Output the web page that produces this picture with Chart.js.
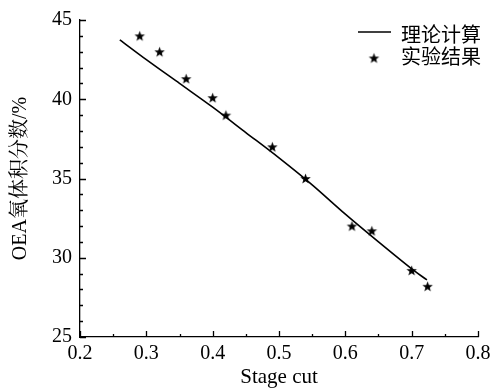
<!DOCTYPE html>
<html>
<head>
<meta charset="utf-8">
<script src="https://cdn.jsdelivr.net/npm/chart.js@4/dist/chart.umd.min.js"></script>
<style>
  html, body { margin: 0; padding: 0; background: #fff; }
  canvas { display: block; }
</style>
</head>
<body>
<canvas id="chart" width="499" height="391"></canvas>
<script>
// measured points
const stageCut = [0.29, 0.32, 0.36, 0.40, 0.42, 0.49, 0.54, 0.61, 0.64, 0.70, 0.724];
const oeaExp = [44.0, 43.0, 41.3, 40.1, 39.0, 37.0, 35.0, 32.0, 31.7, 29.2, 28.2];

// calculated curve
const calcCut = [0.26, 0.30, 0.35, 0.40, 0.45, 0.50, 0.55, 0.60, 0.65, 0.70, 0.723];
const oeaCalc = [43.75, 42.5, 41.0, 39.5, 37.9, 36.3, 34.6, 32.75, 31.0, 29.3, 28.6];

const seriesNames = ['理论计算', '实验结果'];
const xTicks = [0.2, 0.3, 0.4, 0.5, 0.6, 0.7, 0.8];
const yTicks = [25, 30, 35, 40, 45];

const serif = "'Liberation Serif', 'Times New Roman', 'Noto Serif CJK SC', 'Noto Sans CJK SC', serif";
const cjk = "'Noto Sans CJK SC', 'Liberation Serif', sans-serif";

// filled five-point star marker
function starMarker(r) {
  const c = document.createElement('canvas');
  const s = Math.ceil(r * 2 + 2);
  c.width = s; c.height = s;
  const g = c.getContext('2d');
  g.beginPath();
  for (let i = 0; i < 10; i++) {
    const rad = i % 2 === 0 ? r : r * 0.42;
    const a = -Math.PI / 2 + i * Math.PI / 5;
    const px = s / 2 + rad * Math.cos(a);
    const py = s / 2 + rad * Math.sin(a) + 0.5;
    i === 0 ? g.moveTo(px, py) : g.lineTo(px, py);
  }
  g.closePath();
  g.fillStyle = '#000';
  g.fill();
  return c;
}
const star = starMarker(5.5);

// inward major/minor ticks on the left and bottom axes
const innerTicks = {
  id: 'innerTicks',
  afterDraw(chart) {
    const ctx = chart.ctx;
    const xs = chart.scales.x, ys = chart.scales.y;
    const { left, bottom } = chart.chartArea;
    ctx.save();
    ctx.strokeStyle = '#000';
    ctx.lineWidth = 1.3;
    ctx.beginPath();
    for (let i = 0; i <= 12; i++) {
      const v = 0.2 + i * 0.05;
      const px = Math.round(xs.getPixelForValue(v)) + 0.5;
      const len = i % 2 === 0 ? 6 : 3;
      ctx.moveTo(px, bottom);
      ctx.lineTo(px, bottom - len);
    }
    for (let v = 25; v <= 45; v++) {
      const py = Math.round(ys.getPixelForValue(v)) + 0.5;
      const len = v % 5 === 0 ? 6 : 3;
      ctx.moveTo(left, py);
      ctx.lineTo(left + len, py);
    }
    ctx.stroke();
    ctx.restore();
  }
};

// legend in the upper right corner
const cornerLegend = {
  id: 'cornerLegend',
  afterDraw(chart) {
    const ctx = chart.ctx;
    const ds = chart.data.datasets;
    const x0 = 358, y0 = 34, row = 22;
    ctx.save();
    ctx.strokeStyle = '#000';
    ctx.lineWidth = 1.6;
    ctx.beginPath();
    ctx.moveTo(x0, y0 - 2);
    ctx.lineTo(x0 + 33, y0 - 2);
    ctx.stroke();
    ctx.drawImage(star, x0 + 16 - star.width / 2, y0 + row + 2 - star.height / 2);
    ctx.fillStyle = '#000';
    ctx.font = '20px ' + cjk;
    ctx.textBaseline = 'middle';
    ctx.textAlign = 'left';
    ctx.fillText(ds[0].label, x0 + 43, y0);
    ctx.fillText(ds[1].label, x0 + 43, y0 + row);
    ctx.restore();
  }
};

new Chart(document.getElementById('chart'), {
  type: 'scatter',
  data: {
    datasets: [
      {
        label: seriesNames[0],
        type: 'line',
        data: calcCut.map((x, i) => ({ x: x, y: oeaCalc[i] })),
        borderColor: '#000',
        borderWidth: 1.6,
        pointRadius: 0,
        tension: 0.3,
        fill: false
      },
      {
        label: seriesNames[1],
        data: stageCut.map((x, i) => ({ x: x, y: oeaExp[i] })),
        pointStyle: star,
        pointRadius: 6,
        backgroundColor: '#000',
        borderColor: '#000'
      }
    ]
  },
  options: {
    responsive: false,
    animation: false,
    devicePixelRatio: 1,
    layout: { padding: { top: 16, right: 21, left: 0, bottom: 0 } },
    plugins: {
      legend: { display: false },
      tooltip: { enabled: false }
    },
    scales: {
      x: {
        type: 'linear',
        min: 0.2,
        max: 0.8,
        afterBuildTicks: s => { s.ticks = xTicks.map(v => ({ value: v })); },
        afterFit: s => { s.height = 54; },
        grid: { display: false, drawTicks: false },
        border: { display: true, color: '#000', width: 1.3 },
        ticks: {
          padding: 5,
          color: '#000',
          font: { family: serif, size: 20 },
          callback: v => v.toFixed(1)
        },
        title: {
          display: true,
          text: 'Stage cut',
          color: '#000',
          font: { family: serif, size: 21 },
          padding: { top: 0, bottom: 1 }
        }
      },
      y: {
        min: 25,
        max: 45,
        afterBuildTicks: s => { s.ticks = yTicks.map(v => ({ value: v })); },
        afterFit: s => { s.width = 80; },
        grid: { display: false, drawTicks: false },
        border: { display: true, color: '#000', width: 1.3 },
        ticks: {
          padding: 8,
          color: '#000',
          font: { family: serif, size: 20 },
          callback: v => String(v)
        },
        title: {
          display: true,
          text: 'OEA氧体积分数/%',
          color: '#000',
          font: { family: serif, size: 20 },
          padding: { top: 9, bottom: 0 }
        }
      }
    }
  },
  plugins: [innerTicks, cornerLegend]
});
</script>
</body>
</html>
